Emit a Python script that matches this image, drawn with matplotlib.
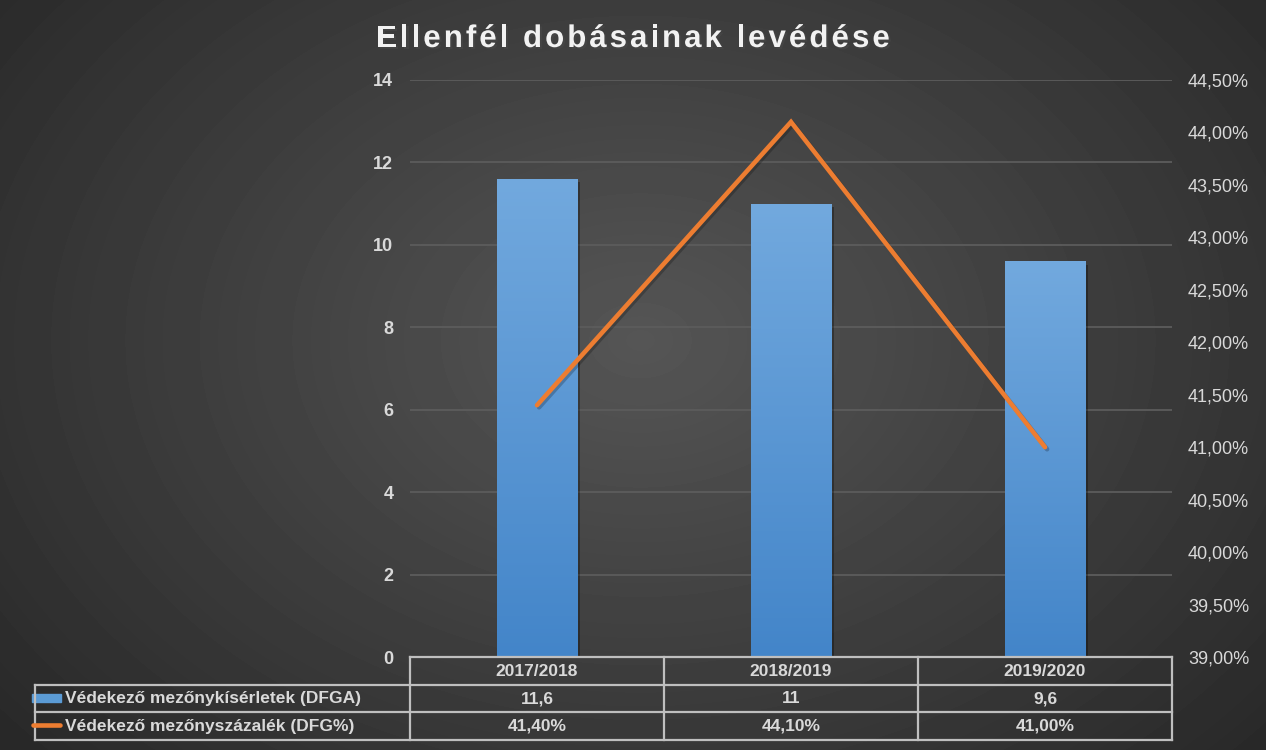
import numpy as np
import matplotlib
matplotlib.use("Agg")
import matplotlib.pyplot as plt
import matplotlib.patheffects as pe
from matplotlib.colors import LinearSegmentedColormap
from matplotlib.lines import Line2D
from matplotlib.patches import Rectangle
from matplotlib.font_manager import FontProperties
from matplotlib.transforms import blended_transform_factory

# data
seasons = ["2017/2018", "2018/2019", "2019/2020"]
dfga = [11.6, 11, 9.6]
dfg_pct = [41.4, 44.1, 41.0]
dfga_labels = ["11,6", "11", "9,6"]
pct_labels = ["41,40%", "44,10%", "41,00%"]
series_names = ["Védekező mezőnykísérletek (DFGA)", "Védekező mezőnyszázalék (DFG%)"]
title = "Ellenfél dobásainak levédése"

W, H = 1266, 750
TXT = '#d9d9d9'
table_fp = FontProperties(family='Liberation Sans', weight='bold', size=12.5)

fig = plt.figure(figsize=(W / 100, H / 100), dpi=100)

# radial background
bg = fig.add_axes([0, 0, 1, 1], zorder=-10)
yy, xx = np.mgrid[0:H, 0:W]
r = np.sqrt(((xx - 640) / 760) ** 2 + ((yy - 340) / 560) ** 2)
shade = np.clip(0.335 - 0.16 * r, 0.14, 1)
bg.imshow(shade, cmap='gray', vmin=0, vmax=1, extent=[0, 1, 0, 1], aspect='auto', origin='upper')
bg.axis('off')

# main axes
ax = fig.add_axes([410 / W, 1 - 657 / H, (1172 - 410) / W, (657 - 80) / H])
ax.set_facecolor('none')
x = np.arange(len(seasons))
bars = ax.bar(x, dfga, width=0.315, color='#5b9bd5', zorder=3)
grad = np.linspace(0, 1, 256).reshape(-1, 1)
bar_cmap = LinearSegmentedColormap.from_list('bar', ['#4385c9', '#72a9de'])
for b in bars:
    b.set_path_effects([pe.SimplePatchShadow(offset=(2.5, -2.5), alpha=0.3, shadow_rgbFace='black'), pe.Normal()])
    im = ax.imshow(grad, cmap=bar_cmap, origin='lower', aspect='auto', zorder=3.5,
                   extent=[b.get_x(), b.get_x() + b.get_width(), 0, b.get_height()])
    im.set_clip_path(b)
ax.set_xlim(-0.5, 2.5)
ax.set_ylim(0, 14)
ax.set_yticks(range(0, 15, 2))
ax.set_xticks([])
ax.grid(axis='y', color='#5c5c5c', lw=1.3)
ax.set_axisbelow(True)
for s in ax.spines.values():
    s.set_visible(False)
ax.tick_params(axis='y', length=0, pad=12, labelsize=13, labelcolor=TXT)
for t in ax.get_yticklabels():
    t.set_fontweight('bold')
    t.set_family('Liberation Sans')

ax2 = ax.twinx()
ax2.set_ylim(39, 44.5)
pticks = np.arange(39, 44.51, 0.5)
ax2.set_yticks(pticks)
ax2.set_yticklabels([f"{v:.2f}%".replace('.', ',') for v in pticks], family='Liberation Sans')
ax2.tick_params(axis='y', length=0, pad=11.5, labelsize=13, labelcolor=TXT)
for s in ax2.spines.values():
    s.set_visible(False)
ax2.plot(x, dfg_pct, color='#ed7d31', lw=3.3, solid_capstyle='round', solid_joinstyle='miter',
         path_effects=[pe.SimpleLineShadow(offset=(1.5, -1.5), alpha=0.22), pe.Normal()])

# data table
tr = blended_transform_factory(ax.transData, fig.transFigure)
fy = lambda p: 1 - p / H
LC = '#bfbfbf'
lw = 1.6
rows = [657, 685, 712, 740]
fig.add_artist(Line2D([-0.5, 2.5], [fy(rows[0])] * 2, transform=tr, color=LC, lw=lw))
for yp in rows[1:]:
    fig.add_artist(Line2D([35 / W, 1172 / W], [fy(yp)] * 2, transform=fig.transFigure, color=LC, lw=lw))
for xb in [-0.5, 0.5, 1.5, 2.5]:
    fig.add_artist(Line2D([xb, xb], [fy(rows[0]), fy(rows[-1])], transform=tr, color=LC, lw=lw))
fig.add_artist(Line2D([35 / W, 35 / W], [fy(rows[1]), fy(rows[-1])], transform=fig.transFigure, color=LC, lw=lw))

row_labels = [seasons, dfga_labels, pct_labels]
for ri, labels in enumerate(row_labels):
    yc = fy((rows[ri] + rows[ri + 1]) / 2)
    for i, lab in enumerate(labels):
        fig.text(x[i], yc, lab, transform=tr, color=TXT, fontproperties=table_fp,
                 ha='center', va='center')

# legend keys
fig.add_artist(Rectangle((32 / W, fy(702)), 29 / W, 8 / H, transform=fig.transFigure,
                         color='#5b9bd5'))
fig.add_artist(Line2D([33 / W, 60 / W], [fy(725)] * 2, transform=fig.transFigure,
                      color='#ed7d31', lw=3.3, solid_capstyle='round'))
for ri, name in enumerate(series_names):
    yc = fy((rows[ri + 1] + rows[ri + 2]) / 2)
    fig.text(65 / W, yc, name, color=TXT, fontproperties=table_fp, ha='left', va='center')

# letter-spaced title
rend = fig.canvas.get_renderer()
fp = FontProperties(family='Liberation Sans', weight='bold', size=22.5)
spacing = 3
widths = [rend.get_text_width_height_descent(title[:i], fp, ismath=False)[0] for i in range(len(title) + 1)]
total = widths[-1] + spacing * (len(title) - 1)
start = 633 - total / 2
for i, ch in enumerate(title):
    if ch == ' ':
        continue
    fig.text((start + widths[i] + i * spacing) / W, fy(47), ch, fontproperties=fp, color='#f2f2f2',
             ha='left', va='baseline',
             path_effects=[pe.withSimplePatchShadow(offset=(1.5, -1.5), alpha=0.6)])

fig.savefig('out.png', dpi=100)
